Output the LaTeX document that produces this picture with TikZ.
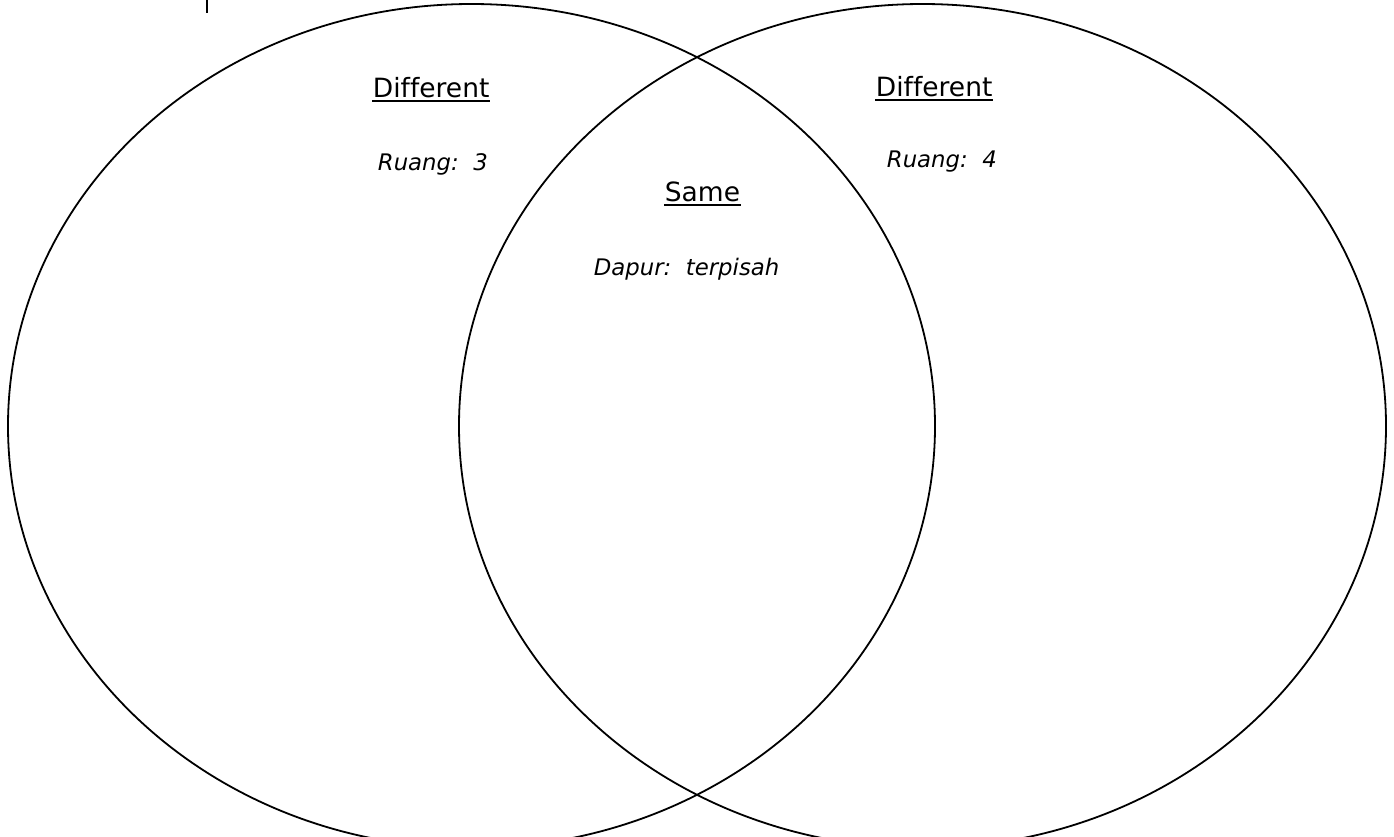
\documentclass[tikz,border=0pt]{standalone}
\usepackage{fontspec}
\setmainfont[Ligatures=NoCommon]{DejaVu Sans}
\tikzset{
  head/.style={anchor=base west,inner sep=0pt,font=\fontsize{26.5}{30}\selectfont},
  item/.style={anchor=base west,inner sep=0pt,font=\fontsize{22.8}{26}\selectfont\itshape},
  uline/.style={line width=2.4pt}
}
\begin{document}
\begin{tikzpicture}[x=1pt,y=-1pt,line width=1.8pt]
        \useasboundingbox (0,0) rectangle (1394,836);
        % two sets
        \begin{scope}
        \clip (0,0) rectangle (1394,836);
        \draw (471.5,426) ellipse [x radius=463.5,y radius=422];
        \draw (922.5,426) ellipse [x radius=463.5,y radius=422];
        \end{scope}
        \draw (207,0)--(207,13);
        % left set
        \node[head] (difl) at (372,97) {Different};
        \draw[uline] ([yshift=-4pt]difl.base west)--([yshift=-4pt]difl.base east);
        \node[item] (ruangl) at (377,170) {Ruang:~~3};
        % right set
        \node[head] (difr) at (875,96) {Different};
        \draw[uline] ([yshift=-4pt]difr.base west)--([yshift=-4pt]difr.base east);
        \node[item] (ruangr) at (886,167) {Ruang:~~4};
        % both
        \node[head] (same) at (664,201) {Same};
        \draw[uline] ([yshift=-4pt]same.base west)--([yshift=-4pt]same.base east);
        \node[item] (dapur) at (593,275) {Dapur:~~terpisah};
\end{tikzpicture}
\end{document}
